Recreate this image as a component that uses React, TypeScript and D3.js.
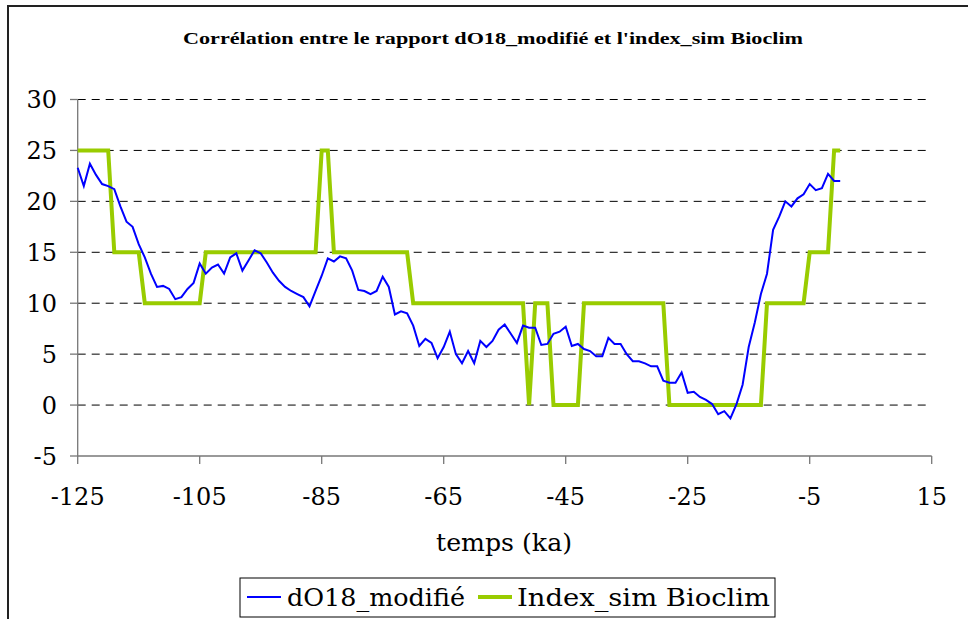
import React from "react";
import * as d3 from "d3";

const startYear = -125;
const dO18Values = [
  23.3, 21.5, 23.7, 22.6, 21.7, 21.5, 21.2, 19.5, 18.0, 17.5,
  15.8, 14.5, 12.9, 11.6, 11.7, 11.4, 10.4, 10.6, 11.4, 12.0,
  13.9, 12.9, 13.5, 13.8, 12.9, 14.5, 14.9, 13.2, 14.2, 15.2,
  14.9, 14.0, 13.0, 12.2, 11.6, 11.2, 10.9, 10.6, 9.7, 11.2,
  12.7, 14.4, 14.1, 14.6, 14.4, 13.2, 11.3, 11.2, 10.9, 11.2,
  12.6, 11.6, 8.9, 9.2, 9.0, 7.8, 5.8, 6.5, 6.1, 4.6,
  5.7, 7.2, 5.0, 4.1, 5.3, 4.1, 6.3, 5.7, 6.3, 7.4,
  7.9, 7.0, 6.1, 7.8, 7.6, 7.6, 5.9, 6.0, 7.0, 7.2,
  7.7, 5.8, 6.0, 5.5, 5.3, 4.8, 4.8, 6.6, 6.0, 6.0,
  5.0, 4.3, 4.3, 4.1, 3.8, 3.8, 2.4, 2.2, 2.2, 3.2,
  1.2, 1.3, 0.8, 0.5, 0.1, -0.9, -0.6, -1.3, 0.1, 2.0,
  5.7, 8.1, 10.9, 12.9, 17.2, 18.5, 20.0, 19.5, 20.3, 20.7,
  21.7, 21.1, 21.3, 22.7, 22.0, 22.0,
];
const bioclimValues = [
  25, 25, 25, 25, 25, 25, 15, 15, 15, 15,
  15, 10, 10, 10, 10, 10, 10, 10, 10, 10,
  10, 15, 15, 15, 15, 15, 15, 15, 15, 15,
  15, 15, 15, 15, 15, 15, 15, 15, 15, 15,
  25, 25, 15, 15, 15, 15, 15, 15, 15, 15,
  15, 15, 15, 15, 15, 10, 10, 10, 10, 10,
  10, 10, 10, 10, 10, 10, 10, 10, 10, 10,
  10, 10, 10, 10, 0, 10, 10, 10, 0, 0,
  0, 0, 0, 10, 10, 10, 10, 10, 10, 10,
  10, 10, 10, 10, 10, 10, 10, 0, 0, 0,
  0, 0, 0, 0, 0, 0, 0, 0, 0, 0,
  0, 0, 0, 10, 10, 10, 10, 10, 10, 10,
  15, 15, 15, 15, 25, 25,
];
const xTicks = [-125, -105, -85, -65, -45, -25, -5, 15];
const yTicks = [-5, 0, 5, 10, 15, 20, 25, 30];
const seriesNames = ["dO18_modifié", "Index_sim Bioclim"];
const seriesColors = ["#0000FF", "#99CC00"];
const titleText = "Corrélation entre le rapport dO18_modifié et l'index_sim Bioclim";
const xLabel = "temps (ka)";

export default function App() {
  const x = d3.scaleLinear().domain([-125, 15]).range([77.7, 931.7]);
  const y = d3.scaleLinear().domain([-5, 30]).range([456, 99.5]);
  const blue = dO18Values.map((v, i) => [startYear + i, v] as [number, number]);
  const green = bioclimValues.map((v, i) => [startYear + i, v] as [number, number]);
  const line = d3
    .line<[number, number]>()
    .x((d) => x(d[0]))
    .y((d) => y(d[1]));
  const font = "'DejaVu Serif', serif";
  return (
    <svg
      width={968}
      height={619}
      style={{ position: "absolute", left: 0, top: 0, background: "#fff" }}
    >
      <rect x={0} y={0} width={968} height={619} fill="#fff" />
      <path d="M8,640 V6 H980" fill="none" stroke="#222" strokeWidth={2} />
      <text
        x={493}
        y={44}
        textAnchor="middle"
        fontFamily="'Liberation Serif', serif"
        fontWeight="bold"
        fontSize={16}
        textLength={620}
        lengthAdjust="spacingAndGlyphs"
      >
        {titleText}
      </text>
      {yTicks
        .filter((t) => t > -5)
        .map((t) => (
          <line
            key={"g" + t}
            x1={x(-125)}
            x2={x(15)}
            y1={y(t)}
            y2={y(t)}
            stroke="#000"
            strokeWidth={1}
            strokeDasharray="8,6"
          />
        ))}
      <line x1={x(-125)} x2={x(-125)} y1={y(30)} y2={y(-5)} stroke="#777" strokeWidth={1.3} />
      <line x1={x(-125)} x2={x(15)} y1={y(-5)} y2={y(-5)} stroke="#777" strokeWidth={1.3} />
      {yTicks.map((t) => (
        <g key={"y" + t}>
          <line x1={70} x2={x(-125)} y1={y(t)} y2={y(t)} stroke="#777" strokeWidth={1.3} />
          <text
            x={57}
            y={y(t)}
            dy="0.36em"
            textAnchor="end"
            fontFamily={font}
            fontSize={24}
            fill="#000"
          >
            {t}
          </text>
        </g>
      ))}
      {xTicks.map((t) => (
        <g key={"x" + t}>
          <line x1={x(t)} x2={x(t)} y1={y(-5)} y2={y(-5) + 8} stroke="#777" strokeWidth={1.3} />
          <text x={x(t)} y={505} textAnchor="middle" fontFamily={font} fontSize={24} fill="#000">
            {t}
          </text>
        </g>
      ))}
      <text x={504} y={551} textAnchor="middle" fontFamily={font} fontSize={25} fill="#000" textLength={136} lengthAdjust="spacingAndGlyphs">
        {xLabel}
      </text>
      <path d={line(green) || ""} fill="none" stroke={seriesColors[1]} strokeWidth={4} strokeLinejoin="miter" />
      <path d={line(blue) || ""} fill="none" stroke={seriesColors[0]} strokeWidth={2} />
      <g>
        <rect x={240} y={578} width={535} height={39} fill="#fff" stroke="#000" strokeWidth={1} />
        <line x1={247} x2={281} y1={597} y2={597} stroke={seriesColors[0]} strokeWidth={2} />
        <text x={287} y={606} fontFamily={font} fontSize={25} fill="#000" textLength={178} lengthAdjust="spacingAndGlyphs">
          {seriesNames[0]}
        </text>
        <line x1={478} x2={512} y1={597} y2={597} stroke={seriesColors[1]} strokeWidth={4} />
        <text x={517} y={606} fontFamily={font} fontSize={25} fill="#000" textLength={253} lengthAdjust="spacingAndGlyphs">
          {seriesNames[1]}
        </text>
      </g>
    </svg>
  );
}
